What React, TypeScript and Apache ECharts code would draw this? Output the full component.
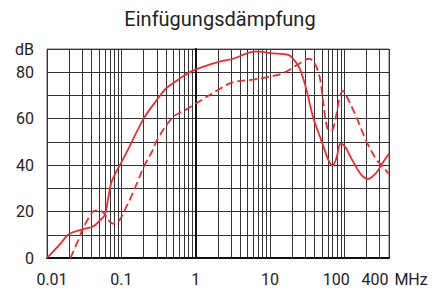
import React, { useEffect, useRef } from 'react';
import * as echarts from 'echarts';

const chartTitle = 'Einfügungsdämpfung';
const xUnit = 'MHz';
const yUnit = 'dB';

// Solid curve (frequency in MHz, attenuation in dB)
const solidFreq = [0.01, 0.015, 0.02, 0.03, 0.042, 0.052, 0.06, 0.066, 0.073, 0.082, 0.1, 0.123, 0.2, 0.3, 0.4, 0.6, 0.92, 2.1, 3.2, 6.2, 7.3, 10, 17.6, 21.5, 25.3, 30.8, 38.2, 49.6, 60.8, 69.5, 78.6, 89, 101, 131, 169, 207, 268, 329, 400];
const solidDb = [0, 6, 10.4, 12.3, 13.6, 16.4, 18.5, 25, 32.3, 36, 41.2, 46.7, 60, 68, 73, 77.1, 80.7, 84.6, 85.8, 88.9, 88.9, 88.2, 87.5, 85, 81.4, 72.8, 60.5, 50.3, 42.4, 39.9, 43.1, 49.2, 48.2, 41.6, 35.9, 34, 36.6, 41, 45];

// Dashed curve
const dashedFreq = [0.0207, 0.0275, 0.0305, 0.0416, 0.046, 0.054, 0.063, 0.07, 0.081, 0.095, 0.117, 0.13, 0.177, 0.196, 0.267, 0.296, 0.49, 0.75, 1.13, 2.1, 3.2, 5.9, 8.9, 15, 22.9, 33.9, 39.7, 46.6, 51.7, 57.5, 63.4, 70, 78.6, 87.4, 96, 104, 145, 196, 268, 348, 400];
const dashedDb = [0, 9.1, 12.8, 20, 20.4, 20.2, 17.8, 15.6, 14.7, 16.4, 22.1, 25, 35.1, 38.7, 46.7, 50.3, 60.5, 64, 67.5, 72.8, 75.7, 76.8, 77.8, 79.6, 83, 85.8, 84, 78, 68, 57.6, 54.7, 55.4, 62, 69.5, 72, 70.6, 60.8, 50.7, 42.7, 38.4, 36.2];

// Axis ticks
const xMinFreq = 0.01;
const xMaxFreq = 400;
const xLabelFreqs = [0.01, 0.1, 1, 10, 100, 400];
const xLabelTexts = ['0.01', '0.1', '1', '10', '100', '400'];
const xGridMultipliers = [1, 2, 3, 4, 5, 6, 7, 8, 9];
const xGridDecades = [0.01, 0.1, 1, 10, 100];
const yMin = 0;
const yMax = 90;
const yStep = 10;
const yLabelValues = [0, 20, 40, 60, 80];

const red = '#ee2a33';
const font = 'Roboto';
const lg = (v: number) => Math.log10(v);

const xGridValues: number[] = [];
xGridDecades.forEach((d) => xGridMultipliers.forEach((m) => {
  const v = d * m;
  if (v <= xMaxFreq) xGridValues.push(lg(v));
}));

const toPairs = (f: number[], d: number[]) => f.map((v, i) => [lg(v), d[i]]);

const labelRich: Record<string, any> = {};
xLabelTexts.forEach((_, i) => {
  labelRich['l' + i] = {
    fontFamily: font,
    fontSize: 16,
    color: '#222',
    padding: i === 0 ? [0, 0, 0, 10] : i === 4 ? [0, 16, 0, 0] : i === 5 ? [0, 28, 0, 0] : [0, 0, 0, 0],
  };
});

export default function App() {
  const ref = useRef<HTMLDivElement>(null);
  useEffect(() => {
    const chart = echarts.init(ref.current!, null, { renderer: 'svg' });
    chart.setOption({
      animation: false,
      backgroundColor: '#fff',
      title: {
        text: chartTitle,
        left: 'center',
        top: 4,
        textStyle: { fontFamily: font, fontSize: 20, fontWeight: 'normal', color: '#222' },
      },
      grid: {
        left: 47, right: 51, top: 49, bottom: 33,
        show: true, borderColor: '#666', borderWidth: 1, backgroundColor: 'transparent',
      },
      xAxis: {
        type: 'value',
        min: lg(xMinFreq),
        max: lg(xMaxFreq),
        name: xUnit,
        nameLocation: 'end',
        nameGap: 2,
        nameTextStyle: {
          fontFamily: font, fontSize: 16, color: '#222',
          align: 'left', verticalAlign: 'top', padding: [13, 0, 0, 0],
        },
        axisLine: { show: true, onZero: false, lineStyle: { color: '#111', width: 2 } },
        axisTick: { show: false, customValues: xGridValues },
        splitLine: { show: true, lineStyle: { color: '#333', width: 1 } },
        axisLabel: {
          customValues: xLabelFreqs.map(lg),
          margin: 13,
          fontFamily: font,
          fontSize: 16,
          color: '#222',
          formatter: (v: number) => {
            const i = xLabelFreqs.findIndex((f) => Math.abs(lg(f) - v) < 1e-6);
            return i >= 0 ? `{l${i}|${xLabelTexts[i]}}` : '';
          },
          rich: labelRich,
        },
      },
      yAxis: {
        type: 'value',
        min: yMin,
        max: yMax,
        interval: yStep,
        axisLine: { show: true, lineStyle: { color: '#111', width: 2 } },
        axisTick: { show: false },
        splitLine: { show: true, lineStyle: { color: '#333', width: 1 } },
        axisLabel: {
          margin: 13,
          fontFamily: font,
          fontSize: 16,
          color: '#222',
          formatter: (v: number) => (v === yMax ? yUnit : yLabelValues.includes(v) ? String(v) : ''),
        },
      },
      series: [
        {
          type: 'line',
          data: toPairs(solidFreq, solidDb),
          showSymbol: false,
          smooth: 0.35,
          lineStyle: { color: red, width: 1.8 },
        },
        {
          type: 'line',
          data: toPairs(dashedFreq, dashedDb),
          showSymbol: false,
          smooth: 0.35,
          lineStyle: { color: red, width: 1.8, type: [8, 4] },
        },
      ],
    });
    return () => chart.dispose();
  }, []);
  return (
    <div
      ref={ref}
      style={{ position: 'fixed', left: 0, top: 0, width: 440, height: 291, background: '#fff' }}
    />
  );
}
